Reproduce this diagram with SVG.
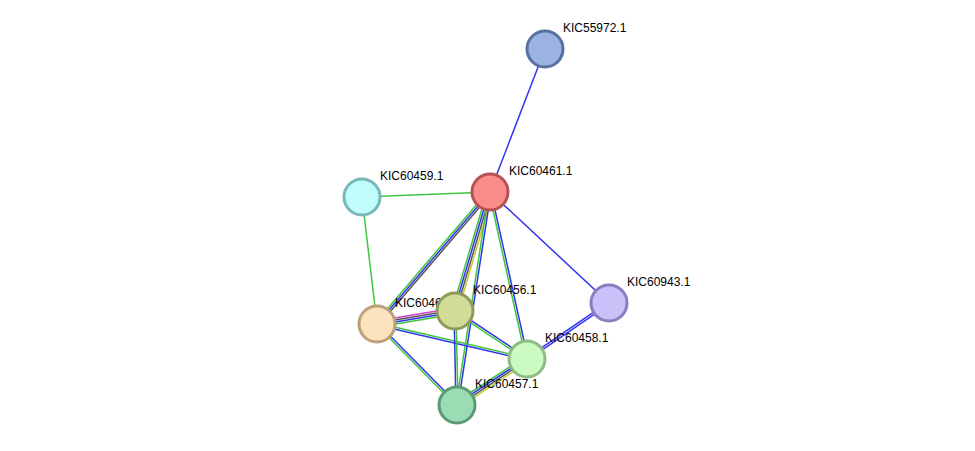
<svg xmlns="http://www.w3.org/2000/svg" width="975" height="451" viewBox="0 0 975 451">
<style>
line{stroke-width:1.5;fill:none}
.g{stroke:#3dc63d}.b{stroke:#3333ee}.k{stroke:#555}.y{stroke:#c8c83a}.m{stroke:#d040d0}
circle{stroke-width:3}
text{font-family:"Liberation Sans",Arial,sans-serif;font-size:12px;fill:#000}
</style>
<rect width="975" height="451" fill="#fff"/>
<g id="edges">
<line class="b" x1="490" y1="192" x2="545" y2="49"/>
<line class="g" x1="490" y1="192" x2="362" y2="197"/>
<line class="b" x1="490" y1="192" x2="609" y2="303"/>
<line class="g" x1="362" y1="197" x2="377" y2="324"/>
<g transform="translate(-1.5,-1.3)"><line class="g" x1="490" y1="192" x2="377" y2="324"/></g>
<g><line class="b" x1="490" y1="192" x2="377" y2="324"/></g>
<g transform="translate(1.5,1.3)"><line class="k" x1="490" y1="192" x2="377" y2="324"/></g>
<g transform="translate(-2.9,-0.8)"><line class="g" x1="490" y1="192" x2="455" y2="311"/></g>
<g transform="translate(-1,-0.3)"><line class="b" x1="490" y1="192" x2="455" y2="311"/></g>
<g transform="translate(1,0.3)"><line class="k" x1="490" y1="192" x2="455" y2="311"/></g>
<g transform="translate(2.9,0.8)"><line class="y" x1="490" y1="192" x2="455" y2="311"/></g>
<g transform="translate(-1,-0.15)"><line class="g" x1="490" y1="192" x2="457" y2="405"/></g>
<g transform="translate(1,0.15)"><line class="b" x1="490" y1="192" x2="457" y2="405"/></g>
<g transform="translate(-1,0.22)"><line class="g" x1="490" y1="192" x2="527" y2="359"/></g>
<g transform="translate(1,-0.22)"><line class="b" x1="490" y1="192" x2="527" y2="359"/></g>
<g transform="translate(-0.5,-3)"><line class="m" x1="377" y1="324" x2="455" y2="311"/></g>
<g transform="translate(-0.16,-1)"><line class="k" x1="377" y1="324" x2="455" y2="311"/></g>
<g transform="translate(0.16,1)"><line class="b" x1="377" y1="324" x2="455" y2="311"/></g>
<g transform="translate(0.5,3)"><line class="g" x1="377" y1="324" x2="455" y2="311"/></g>
<g transform="translate(-0.23,1)"><line class="b" x1="377" y1="324" x2="527" y2="359"/></g>
<g transform="translate(0.23,-1)"><line class="g" x1="377" y1="324" x2="527" y2="359"/></g>
<g transform="translate(0.7,-0.7)"><line class="b" x1="377" y1="324" x2="457" y2="405"/></g>
<g transform="translate(-0.7,0.7)"><line class="g" x1="377" y1="324" x2="457" y2="405"/></g>
<g transform="translate(0.55,-0.83)"><line class="b" x1="455" y1="311" x2="527" y2="359"/></g>
<g transform="translate(-0.55,0.83)"><line class="g" x1="455" y1="311" x2="527" y2="359"/></g>
<g transform="translate(-1,0)"><line class="b" x1="455" y1="311" x2="457" y2="405"/></g>
<g transform="translate(1,0)"><line class="g" x1="455" y1="311" x2="457" y2="405"/></g>
<g transform="translate(-1.6,-2.5)"><line class="g" x1="527" y1="359" x2="457" y2="405"/></g>
<g transform="translate(-0.55,-0.83)"><line class="b" x1="527" y1="359" x2="457" y2="405"/></g>
<g transform="translate(0.55,0.83)"><line class="k" x1="527" y1="359" x2="457" y2="405"/></g>
<g transform="translate(1.6,2.5)"><line class="y" x1="527" y1="359" x2="457" y2="405"/></g>
<g transform="translate(-0.6,-0.8)"><line class="b" x1="527" y1="359" x2="609" y2="303"/></g>
<g transform="translate(0.6,0.8)"><line class="b" x1="527" y1="359" x2="609" y2="303"/></g>
</g>
<g id="n55972"><circle cx="545" cy="49" r="18" fill="#9ab3e0" stroke="#5670a0"/><text x="563" y="32">KIC55972.1</text></g>
<g id="n461"><circle cx="490" cy="192" r="18" fill="#fa8c8c" stroke="#b85252"/><text x="509" y="175">KIC60461.1</text></g>
<g id="n459"><circle cx="362" cy="197" r="18" fill="#c0fcfc" stroke="#7ab8b8"/><text x="380" y="180">KIC60459.1</text></g>
<g id="n943"><circle cx="609" cy="303" r="18" fill="#cbc0f8" stroke="#8a7ec0"/><text x="627" y="286">KIC60943.1</text></g>
<g id="n460"><circle cx="377" cy="324" r="18" fill="#fde2c0" stroke="#bca07a"/><text x="395" y="307">KIC60460.1</text></g>
<g id="n456"><circle cx="455" cy="311" r="18" fill="#d2dc98" stroke="#8e9a5a"/><text x="473" y="294">KIC60456.1</text></g>
<g id="n458"><circle cx="527" cy="359" r="18" fill="#cbfbc0" stroke="#8cbc84"/><text x="545" y="342">KIC60458.1</text></g>
<g id="n457"><circle cx="457" cy="405" r="18" fill="#9cdcb4" stroke="#5a9a74"/><text x="475" y="388">KIC60457.1</text></g>
</svg>
